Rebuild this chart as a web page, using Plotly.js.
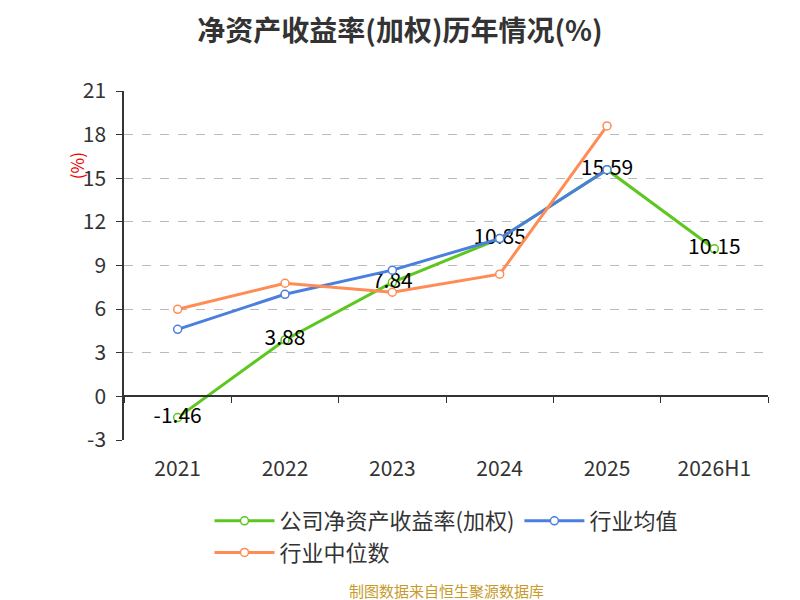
<!DOCTYPE html><html><head><meta charset="utf-8"><script src="https://cdn.plot.ly/plotly-3.0.1.min.js"></script></head><body style="margin:0"><div id="c" style="width:800px;height:600px"></div><script>
const years=["2021","2022","2023","2024","2025","2026H1"];
const company=[-1.46,3.88,7.84,10.85,15.59,10.15];
const industryAvg=[4.61,7.02,8.68,10.85,15.59];
const industryMed=[5.99,7.78,7.16,8.40,18.6];
const yTicks=[-3,0,3,6,9,12,15,18,21];
const F="'Noto Sans CJK SC','Noto Sans',sans-serif";
const data=[
{x:years,y:company,name:"公司净资产收益率(加权)",mode:"lines+markers+text",text:company.map(String),textposition:"middle center",textfont:{size:21,color:"#000",family:F},line:{color:"#5cc71f",width:3},marker:{symbol:"circle",size:8,color:"#fff",line:{color:"#5cc71f",width:1.5}}},
{x:years.slice(0,5),y:industryAvg,name:"行业均值",mode:"lines+markers",line:{color:"#4a7fe0",width:3},marker:{symbol:"circle",size:8,color:"#fff",line:{color:"#4a7fe0",width:1.5}}},
{x:years.slice(0,5),y:industryMed,name:"行业中位数",mode:"lines+markers",line:{color:"#ff8c55",width:3},marker:{symbol:"circle",size:8,color:"#fff",line:{color:"#ff8c55",width:1.5}}},
{x:years,y:company.map(()=>null),xaxis:"x2",showlegend:false,hoverinfo:"skip"}
];
const layout={width:800,height:600,margin:{l:124,r:32,t:91,b:160},paper_bgcolor:"#fff",plot_bgcolor:"#fff",font:{family:F,color:"#333"},
title:{text:"<b>净资产收益率(加权)历年情况(%)</b>",x:0.5,y:0.965,font:{size:28,color:"#333"}},
xaxis:{type:"category",range:[-0.5,5.5],showgrid:false,showline:false,ticks:"",ticklabelstandoff:14,tickfont:{size:21,color:"#333"}},
xaxis2:{type:"category",overlaying:"x",anchor:"free",position:0.1261,range:[-0.5,5.5],showline:true,linecolor:"#333",linewidth:1.5,ticks:"outside",tickson:"boundaries",ticklen:6,tickcolor:"#333",showticklabels:false,showgrid:false},
yaxis:{range:[-3,21],tickvals:yTicks,ticktext:yTicks.map(String),ticklabelstandoff:6,showline:true,linecolor:"#333",linewidth:1.5,ticks:"outside",ticklen:6,tickcolor:"#333",gridcolor:"#bbb",griddash:"dash",zeroline:false,tickfont:{size:21,color:"#333"}},
legend:{orientation:"h",x:0.5,xanchor:"center",y:-0.278,yanchor:"middle",font:{size:22,color:"#333"},itemwidth:60},
annotations:[{text:"(%)",xref:"paper",yref:"paper",x:-0.095,y:0.83,showarrow:false,textangle:-90,font:{size:17,color:"#e00"}},
{text:"制图数据来自恒生聚源数据库",xref:"paper",yref:"paper",x:0.5,y:-0.43,yanchor:"middle",showarrow:false,font:{size:15,color:"#c89a2a"}}]};
Plotly.newPlot("c",data,layout,{displayModeBar:false});
</script></body></html>
